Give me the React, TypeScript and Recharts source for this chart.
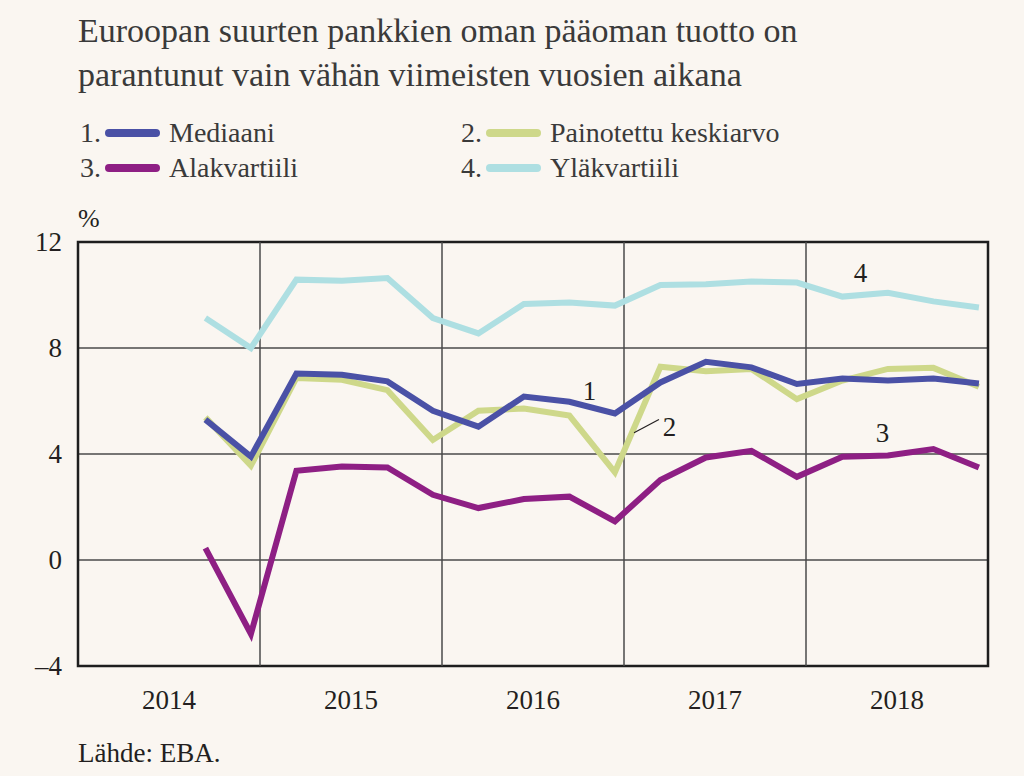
import {
  LineChart,
  Line,
  XAxis,
  YAxis,
  CartesianGrid,
  ReferenceLine,
  ReferenceArea,
  ReferenceDot,
} from "recharts";

const quarters = [
  "2014Q3", "2014Q4",
  "2015Q1", "2015Q2", "2015Q3", "2015Q4",
  "2016Q1", "2016Q2", "2016Q3", "2016Q4",
  "2017Q1", "2017Q2", "2017Q3", "2017Q4",
  "2018Q1", "2018Q2", "2018Q3", "2018Q4",
];

const mediaani = [5.3, 3.9, 7.04, 6.99, 6.74, 5.63, 5.03, 6.17, 5.97, 5.53, 6.7, 7.48, 7.27, 6.64, 6.85, 6.77, 6.85, 6.66];
const painotettu = [5.38, 3.56, 6.87, 6.8, 6.41, 4.53, 5.63, 5.72, 5.45, 3.31, 7.29, 7.12, 7.21, 6.07, 6.77, 7.21, 7.25, 6.54];
const alakvartiili = [0.45, -2.79, 3.37, 3.53, 3.49, 2.46, 1.96, 2.3, 2.39, 1.46, 3.02, 3.87, 4.12, 3.14, 3.9, 3.94, 4.19, 3.49];
const ylakvartiili = [9.13, 8.0, 10.58, 10.54, 10.64, 9.13, 8.55, 9.66, 9.72, 9.6, 10.38, 10.41, 10.51, 10.47, 9.94, 10.08, 9.76, 9.53];

const years = ["2014", "2015", "2016", "2017", "2018"];
const yTicks = [-4, 0, 4, 8, 12];

const series = [
  { key: "med", num: "1.", name: "Mediaani", color: "#4A51A6", values: mediaani },
  { key: "pain", num: "2.", name: "Painotettu keskiarvo", color: "#CED88A", values: painotettu },
  { key: "ala", num: "3.", name: "Alakvartiili", color: "#8E1F84", values: alakvartiili },
  { key: "yla", num: "4.", name: "Yläkvartiili", color: "#AEDFE2", values: ylakvartiili },
];

// quarter label -> position in years from start of 2014 (points sit just before quarter end)
const toX = (q: string) => Number(q.slice(0, 4)) - 2014 + Number(q.slice(5)) * 0.25 - 0.05;

const data = quarters.map((q, i) => {
  const row: Record<string, number> = { x: toX(q) };
  series.forEach((s) => (row[s.key] = s.values[i]));
  return row;
});

const FONT = '"Liberation Serif", "Times New Roman", Times, serif';
const TEXT = "#231f20";
const BG = "#FAF6F1";

const yearTicks = years.map((_, i) => i + 0.5);
const yearLines = years.slice(1).map((_, i) => i + 1);

const YTick = (props: any) => {
  const { x, y, payload } = props;
  const v = payload.value;
  return (
    <text x={x} y={y + 9} textAnchor="end" fontFamily={FONT} fontSize={27} fill={TEXT}>
      {v < 0 ? `–${Math.abs(v)}` : v}
    </text>
  );
};

const XTick = (props: any) => {
  const { x, y, payload } = props;
  return (
    <text x={x} y={y + 43} textAnchor="middle" fontFamily={FONT} fontSize={27} fill={TEXT}>
      {years[Math.round(payload.value - 0.5)]}
    </text>
  );
};

const annotations = [
  { x: 2.81, y: 6.4, text: "1" },
  { x: 3.25, y: 5.05, text: "2" },
  { x: 4.42, y: 4.8, text: "3" },
  { x: 4.3, y: 10.84, text: "4" },
];

const txt = (extra: any) => ({ position: "absolute" as const, fontFamily: FONT, color: TEXT, whiteSpace: "nowrap" as const, ...extra });

export default function App() {
  return (
    <div
      style={{
        position: "absolute",
        left: 0,
        top: 0,
        width: 1024,
        height: 776,
        background: BG,
        fontFamily: FONT,
        color: TEXT,
        overflow: "hidden",
      }}
    >
      <div style={txt({ left: 78, top: 9, fontSize: 34, lineHeight: "44px", color: "#3a3a3a" })}>
        Euroopan suurten pankkien oman pääoman tuotto on
        <br />
        parantunut vain vähän viimeisten vuosien aikana
      </div>

      {series.map((s, i) => {
        const left = i % 2 === 0 ? 80 : 461;
        const top = i < 2 ? 116 : 151;
        return (
          <div key={s.key} style={txt({ left, top, height: 34, fontSize: 28, lineHeight: "34px", color: "#3a3a3a" })}>
            <span style={{ position: "absolute", left: 0, top: 0 }}>{s.num}</span>
            <span
              style={{
                position: "absolute",
                left: 25,
                top: 13,
                width: 55,
                height: 8,
                borderRadius: 4,
                background: s.color,
              }}
            />
            <span style={{ position: "absolute", left: 89, top: 0 }}>{s.name}</span>
          </div>
        );
      })}

      <div style={txt({ left: 78, top: 204, fontSize: 26, lineHeight: "30px" })}>%</div>

      <div style={{ position: "absolute", left: 0, top: 0 }}>
        <LineChart
          width={1024}
          height={776}
          data={data}
          margin={{ top: 242, right: 36, bottom: 50, left: 0 }}
        >
          <CartesianGrid vertical={false} stroke="#4a4a4a" strokeWidth={1.5} />
          <XAxis
            type="number"
            dataKey="x"
            domain={[0, 5]}
            ticks={yearTicks}
            tick={<XTick />}
            tickLine={false}
            tickSize={0}
            tickMargin={0}
            axisLine={false}
            height={60}
          />
          <YAxis
            type="number"
            domain={[-4, 12]}
            ticks={yTicks}
            tick={<YTick />}
            tickLine={false}
            tickSize={0}
            tickMargin={16}
            axisLine={false}
            width={78}
          />
          {yearLines.map((x) => (
            <ReferenceLine key={x} x={x} stroke="#4a4a4a" strokeWidth={1.5} />
          ))}
          <ReferenceArea
            x1={0}
            x2={5}
            y1={-4}
            y2={12}
            fill="none"
            fillOpacity={0}
            stroke="#1e1e1e"
            strokeWidth={2.5}
          />
          {[...series].reverse().map((s) => (
            <Line
              key={s.key}
              type="linear"
              dataKey={s.key}
              stroke={s.color}
              strokeWidth={6}
              dot={false}
              isAnimationActive={false}
            />
          ))}
          <ReferenceLine
            segment={[
              { x: 3.055, y: 4.8 },
              { x: 3.192, y: 5.3 },
            ]}
            stroke={TEXT}
            strokeWidth={1.2}
          />
          {annotations.map((a) => (
            <ReferenceDot
              key={a.text}
              x={a.x}
              y={a.y}
              r={0}
              fill="none"
              stroke="none"
              label={{
                value: a.text,
                position: "center",
                fontFamily: FONT,
                fontSize: 27,
                fill: TEXT,
              }}
            />
          ))}
        </LineChart>
      </div>

      <div style={txt({ left: 78, top: 737, fontSize: 27, lineHeight: "32px" })}>Lähde: EBA.</div>
    </div>
  );
}
